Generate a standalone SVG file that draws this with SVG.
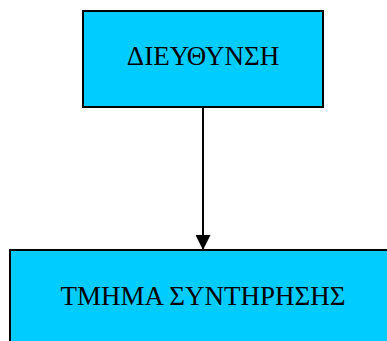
<svg xmlns="http://www.w3.org/2000/svg" width="387" height="341" viewBox="0 0 387 341">
<style>
.node rect{fill:#00ccff;stroke:#000;stroke-width:2}
.node text{font-family:"Liberation Serif",serif;font-size:27px;fill:#000;text-anchor:middle}
</style>
<defs>
<marker id="ah" markerWidth="15" markerHeight="15" refX="15" refY="7.5" orient="auto" markerUnits="userSpaceOnUse">
<path d="M0,0 L15,7.5 L0,15 Z" fill="#000"/>
</marker>
</defs>
<rect width="387" height="341" fill="#fff"/>
<g id="connectors">
<line x1="203" y1="107" x2="203" y2="250" stroke="#000" stroke-width="2" marker-end="url(#ah)"/>
</g>
<g id="node1" class="node">
<rect x="83" y="11" width="240" height="96"/>
<text x="203" y="65">ΔΙΕΥΘΥΝΣΗ</text>
</g>
<g id="node2" class="node">
<rect x="10" y="250" width="386" height="96"/>
<text x="203" y="305">ΤΜΗΜΑ ΣΥΝΤΗΡΗΣΗΣ</text>
</g>
</svg>
